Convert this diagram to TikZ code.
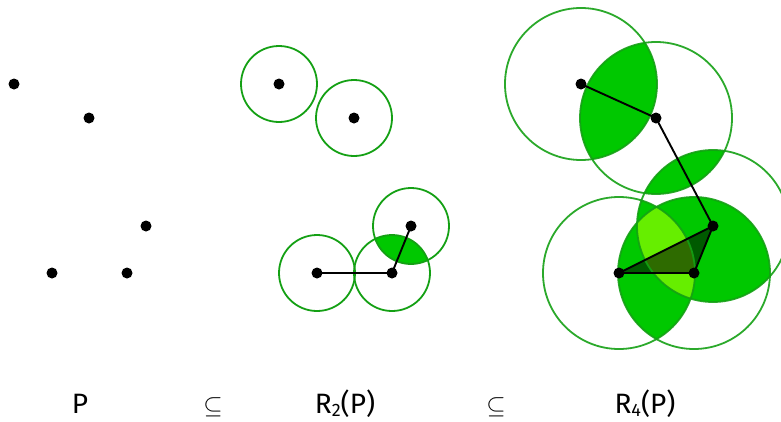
\documentclass[tikz,border=0pt]{standalone}
\usepackage{fontspec}
\setmainfont{Fira Sans}
\definecolor{ringgreen}{RGB}{20,160,20}
\definecolor{lensgreen}{RGB}{0,200,0}
\definecolor{limegreen}{RGB}{102,238,0}
\tikzset{
  ring/.style={draw=ringgreen, line width=1.8pt},
  edge/.style={draw=black, line width=1.9pt},
  dot/.style={circle, fill=black, inner sep=0pt, minimum size=11pt},
  lbl/.style={anchor=base, inner sep=0pt, font=\fontsize{28}{30}\selectfont},
}
\begin{document}
\begin{tikzpicture}[x=1pt,y=-1pt]
\useasboundingbox (0,0) rectangle (781,421);
% ---------- panel 1 : P ----------
\foreach \n/\x/\y in {a/14/84, b/89/118, c/146/226, d/52/273, e/127/273}
  \node[dot] (p\n) at (\x,\y) {};
% ---------- panel 2 : R2(P) ----------
\def\rs{38}
\coordinate (qa) at (279,84);
\coordinate (qb) at (354,118);
\coordinate (qc) at (411,226);
\coordinate (qd) at (317,273);
\coordinate (qe) at (392,273);
\begin{scope}
  \clip (qc) circle (\rs);
  \fill[lensgreen] (qe) circle (\rs);
\end{scope}
\foreach \n in {qa,qb,qc,qd,qe}
  \draw[ring] (\n) circle (\rs);
\draw[edge] (qd) -- (qe) -- (qc);
\foreach \n in {qa,qb,qc,qd,qe}
  \node[dot] at (\n) {};
% ---------- panel 3 : R4(P) ----------
\def\rl{76}
\coordinate (ra) at (581,84);
\coordinate (rb) at (656,118);
\coordinate (rc) at (713,226);
\coordinate (rd) at (619,273);
\coordinate (re) at (694,273);
\foreach \u/\v in {ra/rb, rb/rc, rc/rd, rc/re, rd/re} {
  \begin{scope}
    \clip (\u) circle (\rl);
    \fill[lensgreen] (\v) circle (\rl);
  \end{scope}
}
\begin{scope}
  \clip (rd) circle (\rl);
  \clip (re) circle (\rl);
  \fill[limegreen] (rc) circle (\rl);
\end{scope}
\fill[black, fill opacity=0.55] (rc) -- (rd) -- (re) -- cycle;
\foreach \n in {ra,rb,rc,rd,re}
  \draw[ring, draw opacity=0.9] (\n) circle (\rl);
\draw[edge] (ra) -- (rb) -- (rc) -- (re) -- (rd) -- (rc);
\foreach \n in {ra,rb,rc,rd,re}
  \node[dot] at (\n) {};
% ---------- labels ----------
\node[lbl] (l1) at (80,413) {P};
\node[lbl] (l2) at (213,413) {$\subseteq$};
\node[lbl] (l3) at (345,413) {R\raisebox{-3.5pt}{\fontsize{18}{20}\selectfont 2}(P)};
\node[lbl] (l4) at (496,413) {$\subseteq$};
\node[lbl] (l5) at (645,413) {R\raisebox{-3.5pt}{\fontsize{18}{20}\selectfont 4}(P)};
\end{tikzpicture}
\end{document}
